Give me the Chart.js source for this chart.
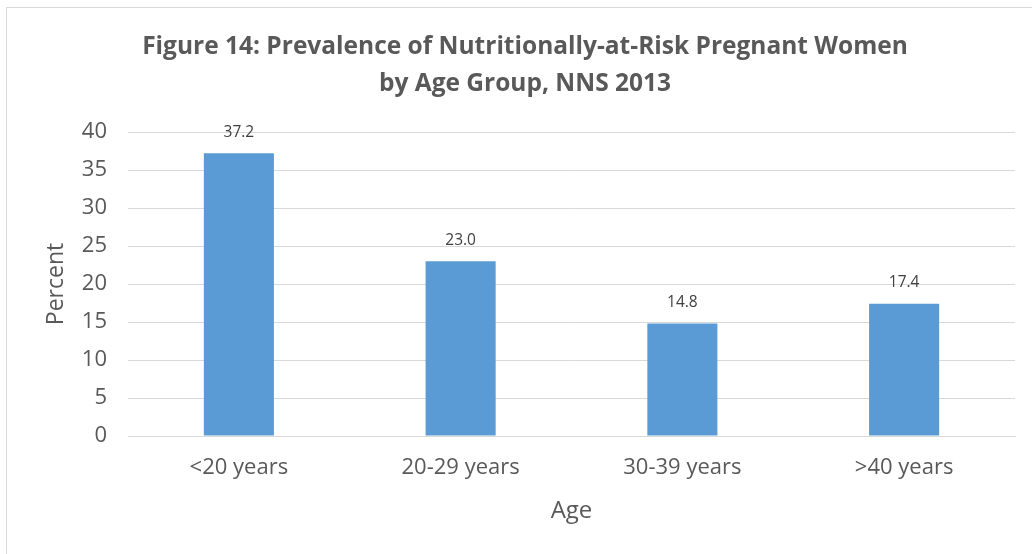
<!DOCTYPE html>
<html>
<head>
<meta charset="utf-8">
<script src="https://cdn.jsdelivr.net/npm/chart.js@4"></script>
<style>
  html, body { margin: 0; padding: 0; background: #fff; overflow: hidden; }
  #wrap { position: relative; width: 1032px; height: 554px; }
  #frame { position: absolute; left: 6px; top: 7px; width: 1040px; height: 560px; border: 1px solid #d9d9d9; box-sizing: border-box; }
  canvas { position: absolute; left: 0; top: 0; }
</style>
</head>
<body>
<div id="wrap">
  <div id="frame"></div>
  <canvas id="chart" width="1032" height="554"></canvas>
</div>
<script>
const FONT = "'Open Sans', 'DejaVu Sans', sans-serif";
const TEXT = "#595959";

const titleLines = [
  "Figure 14: Prevalence of Nutritionally-at-Risk Pregnant Women",
  "by Age Group, NNS 2013"
];
const ageGroups = ["<20 years", "20-29 years", "30-39 years", ">40 years"];
const percentValues = [37.2, 23.0, 14.8, 17.4];

// title drawn by hand to control its position
const titlePlugin = {
  id: "figTitle",
  afterDraw(chart) {
    const ctx = chart.ctx;
    ctx.save();
    ctx.fillStyle = TEXT;
    ctx.font = "bold 24.5px " + FONT;
    ctx.textAlign = "center";
    ctx.textBaseline = "middle";
    titleLines.forEach((t, i) => ctx.fillText(t, 525, 47 + i * 37));
    ctx.restore();
  }
};

// value labels above the bars
const labelPlugin = {
  id: "valueLabels",
  afterDatasetsDraw(chart) {
    const ctx = chart.ctx;
    const meta = chart.getDatasetMeta(0);
    ctx.save();
    ctx.fillStyle = "#404040";
    ctx.font = "15.5px " + FONT;
    ctx.textAlign = "center";
    ctx.textBaseline = "middle";
    meta.data.forEach((bar, i) => {
      ctx.fillText(percentValues[i].toFixed(1), bar.x, bar.y - 21);
    });
    ctx.restore();
  }
};

new Chart(document.getElementById("chart"), {
  type: "bar",
  data: {
    labels: ageGroups,
    datasets: [{
      data: percentValues,
      backgroundColor: "#5B9BD5",
      barPercentage: 0.316,
      categoryPercentage: 1
    }]
  },
  options: {
    responsive: false,
    animation: false,
    layout: { padding: { left: 0, right: 17, top: 132, bottom: 0 } },
    plugins: { legend: { display: false }, title: { display: false }, tooltip: { enabled: false } },
    scales: {
      x: {
        grid: { display: false, drawTicks: false },
        border: { color: "#d9d9d9", width: 1 },
        ticks: { color: TEXT, font: { family: FONT, size: 22 }, padding: 19 },
        title: { display: true, text: "Age", color: TEXT, font: { family: FONT, size: 24 }, padding: { top: 0, bottom: 28 } },
        afterFit(s) { s.height = 554 - 436; }
      },
      y: {
        min: 0, max: 40,
        ticks: { stepSize: 5, color: TEXT, font: { family: FONT, size: 22 }, padding: 21 },
        grid: { color: "#d9d9d9", lineWidth: 1, drawTicks: false },
        border: { display: false },
        title: { display: true, text: "Percent", color: TEXT, font: { family: FONT, size: 23 }, padding: { top: 43, bottom: 0 } },
        afterFit(s) { s.width = 128; }
      }
    }
  },
  plugins: [titlePlugin, labelPlugin]
});
</script>
</body>
</html>
